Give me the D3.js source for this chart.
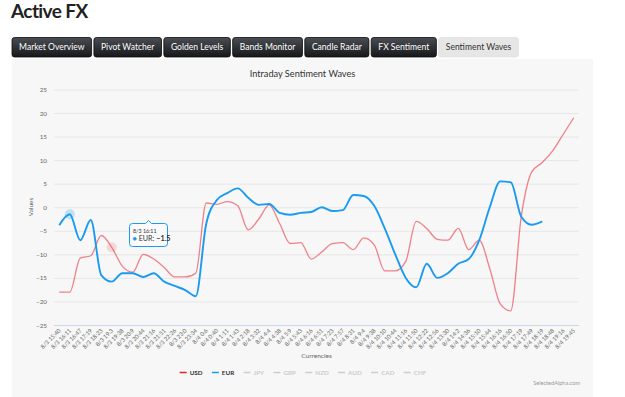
<!DOCTYPE html>
<html><head><meta charset="utf-8">
<script src="https://cdn.jsdelivr.net/npm/d3@7"></script>
<style>body{margin:0;background:#fff;} svg{display:block;}</style>
</head><body>
<script>
const categories = ["8/3 15:40","8/3 16:11","8/3 16:47","8/3 17:19","8/3 18:23","8/3 19:3","8/3 19:38","8/3 20:9","8/3 20:44","8/3 21:16","8/3 21:51","8/3 22:26","8/3 23:0","8/3 23:34","8/4 0:6","8/4 0:40","8/4 1:11","8/4 1:43","8/4 2:18","8/4 3:32","8/4 4:4","8/4 4:38","8/4 5:9","8/4 5:43","8/4 6:16","8/4 6:51","8/4 7:23","8/4 7:57","8/4 8:31","8/4 9:4","8/4 9:38","8/4 10:10","8/4 10:44","8/4 11:16","8/4 11:50","8/4 12:22","8/4 12:56","8/4 13:30","8/4 14:2","8/4 14:36","8/4 15:10","8/4 15:44","8/4 16:16","8/4 16:50","8/4 17:19","8/4 17:49","8/4 18:19","8/4 18:48","8/4 19:16","8/4 19:45"];
const usd = [-18,-18,-10.8,-10.3,-6,-8.5,-12.5,-13.8,-10,-11,-12.8,-14.8,-14.8,-14,0.9,0.6,1.2,0.3,-4.8,-2.5,0.5,-3.5,-7.7,-7.5,-11,-9.5,-7.7,-7.5,-9,-6.5,-8,-13.5,-13.5,-11.5,-3,-4.5,-6.8,-7,-4.5,-9,-7,-13,-20.5,-22,-2,7.5,9.5,12,15.5,19];
const eur = [-3.8,-1.5,-7,-2.7,-14.4,-15.8,-14,-14,-14.8,-14,-15.8,-16.7,-17.6,-18.9,-3.5,1.5,3,4,2,0.5,0.7,-1.2,-1.6,-1.2,-1,0,-0.8,-0.6,2.6,2.4,0.3,-4.5,-10,-15,-17,-12,-15,-14,-12,-11,-7,0,5.5,5.3,-2,-3.7,-3,null,null,null];
const seriesNames = ["USD","EUR","JPY","GBP","NZD","AUD","CAD","CHF"];
const seriesColors = ["#e8202f","#1a9af0","#cccccc","#cccccc","#cccccc","#cccccc","#cccccc","#cccccc"];
const seriesVisible = [true,true,false,false,false,false,false,false];
const yTicks = [-25,-20,-15,-10,-5,0,5,10,15,20,25];
const tabs = ["Market Overview","Pivot Watcher","Golden Levels","Bands Monitor","Candle Radar","FX Sentiment","Sentiment Waves"];
const activeTab = 6;
const tooltipIndex = 1;

const W = 625, H = 397;
const svg = d3.select("body").append("svg").attr("width", W).attr("height", H);
const defs = svg.append("defs");
const g1 = defs.append("linearGradient").attr("id","tabg").attr("x1",0).attr("y1",0).attr("x2",0).attr("y2",1);
g1.append("stop").attr("offset","0%").attr("stop-color","#4a4d52");
g1.append("stop").attr("offset","100%").attr("stop-color","#16181b");

// Page title
svg.append("text").attr("x", 11).attr("y", 18).text("Active FX")
  .attr("font-family","Lato").attr("font-weight","bold").attr("font-size",19)
  .attr("letter-spacing","-0.6").attr("fill","#222");

// Tabs
let tx = 12;
const tabG = svg.append("g");
tabs.forEach((t, i) => {
  const gg = tabG.append("g");
  const r = gg.append("rect").attr("y", 37.5).attr("height", 19.5).attr("rx", 2.5);
  const txt = gg.append("text").text(t).attr("y", 50.3)
    .attr("font-family","Lato").attr("font-size", 8.55)
    .attr("fill", i === activeTab ? "#333" : "#fff");
  const w = txt.node().getComputedTextLength();
  const pad = 7.1;
  r.attr("x", tx).attr("width", w + 2*pad)
   .attr("fill", i === activeTab ? "#e6e6e6" : "url(#tabg)")
   .attr("stroke", i === activeTab ? "#e0e0e0" : "#0b0b0b").attr("stroke-width", 0.8);
  txt.attr("x", tx + pad);
  tx += w + 2*pad + 2.3;
});

// Panel
svg.append("rect").attr("x", 12).attr("y", 59).attr("width", 581).attr("height", 345).attr("fill", "#f7f7f7");

const plotL = 54, plotR = 579, plotT = 89.5, plotB = 325;
const x = d3.scaleBand().domain(categories).range([plotL, plotR]);
const cx = c => x(c) + x.bandwidth()/2;
const y = d3.scaleLinear().domain([-25, 25]).range([plotB, plotT]);

const font = "Lato";
// Chart title
svg.append("text").attr("x", 302.5).attr("y", 77).attr("text-anchor","middle")
  .attr("font-family", font).attr("font-size", 9.2).attr("fill","#333").text("Intraday Sentiment Waves");

// Y grid + labels
const yAxis = svg.append("g").attr("transform", `translate(${plotL},0)`)
  .call(d3.axisLeft(y).tickValues(yTicks).tickSizeInner(-(plotR - plotL)).tickSizeOuter(0).tickPadding(7));
yAxis.select(".domain").remove();
yAxis.selectAll(".tick line").attr("stroke", "#e6e6e6").attr("stroke-width", 1);
yAxis.selectAll(".tick text").attr("font-family", font).attr("font-size", 6.3).attr("fill", "#666");

// X axis line
svg.append("line").attr("x1", plotL).attr("x2", plotR).attr("y1", plotB + 0.5).attr("y2", plotB + 0.5)
  .attr("stroke", "#ccd6eb").attr("stroke-width", 1);

// X labels
const xAxis = svg.append("g").attr("transform", `translate(0,${plotB})`)
  .call(d3.axisBottom(x).tickSize(0).tickPadding(0));
xAxis.select(".domain").remove();
xAxis.selectAll(".tick text").attr("font-family", font).attr("font-size", 5.8).attr("fill", "#666")
  .attr("text-anchor", "end").attr("dy", 0).attr("y", 0)
  .attr("transform", "translate(2,6) rotate(-45)");

// Axis titles
svg.append("text").attr("transform", `translate(33,207) rotate(-90)`).attr("text-anchor","middle")
  .attr("font-family", font).attr("font-size", 6.5).attr("fill","#666").text("Values");
svg.append("text").attr("x", 316.5).attr("y", 358).attr("text-anchor","middle")
  .attr("font-family", font).attr("font-size", 6.5).attr("fill","#666").text("Currencies");

// Lines
const line = d3.line().defined(d => d[1] !== null).x(d => cx(d[0])).y(d => y(d[1])).curve(d3.curveMonotoneX);
const usdData = categories.map((c, i) => [c, usd[i]]);
const eurData = categories.map((c, i) => [c, eur[i]]);

// halos
svg.append("circle").attr("cx", cx(categories[5])).attr("cy", y(usd[5])).attr("r", 5)
  .attr("fill", seriesColors[0]).attr("fill-opacity", 0.15);
svg.append("circle").attr("cx", cx(categories[tooltipIndex])).attr("cy", y(eur[tooltipIndex])).attr("r", 5)
  .attr("fill", seriesColors[1]).attr("fill-opacity", 0.25);

svg.append("path").datum(usdData).attr("d", line).attr("fill","none")
  .attr("stroke", seriesColors[0]).attr("stroke-opacity", 0.55).attr("stroke-width", 1.3);
svg.append("path").datum(eurData).attr("d", line).attr("fill","none")
  .attr("stroke", seriesColors[1]).attr("stroke-width", 1.9);

// Legend (centered)
const lg = svg.append("g");
let lx = 0;
seriesNames.forEach((n, i) => {
  lg.append("line").attr("x1", lx).attr("x2", lx + 7).attr("y1", 372.5).attr("y2", 372.5)
    .attr("stroke", seriesColors[i]).attr("stroke-width", 1.5);
  const t = lg.append("text").attr("x", lx + 10).attr("y", 374.8).text(n)
    .attr("font-family", font).attr("font-size", 6.3).attr("font-weight", "bold")
    .attr("fill", seriesVisible[i] ? "#333" : "#cccccc");
  lx += 10 + t.node().getComputedTextLength() + (i < seriesNames.length - 1 ? 9.3 : 0);
});
lg.attr("transform", `translate(${303 - lx/2},0)`);

// Credit
svg.append("text").attr("x", 580).attr("y", 385).attr("text-anchor","end")
  .attr("font-family", font).attr("font-size", 5.6).attr("fill","#999").text("SelectedAlpha.com");

// Tooltip
const tt = svg.append("g");
const bx = 129.5, by = 223.5, bw = 38, bh = 23, px = 148.5;
tt.append("path").attr("d",
  `M${bx+3},${by} L${px-3},${by} L${px},${by-3} L${px+3},${by} L${bx+bw-3},${by} Q${bx+bw},${by} ${bx+bw},${by+3} L${bx+bw},${by+bh-3} Q${bx+bw},${by+bh} ${bx+bw-3},${by+bh} L${bx+3},${by+bh} Q${bx},${by+bh} ${bx},${by+bh-3} L${bx},${by+3} Q${bx},${by} ${bx+3},${by} Z`)
  .attr("fill", "rgba(250,250,250,0.92)").attr("stroke", seriesColors[1]).attr("stroke-width", 1);
tt.append("text").attr("x", 133).attr("y", 232.5).attr("font-family", font).attr("font-size", 5.3)
  .attr("fill", "#333").text(categories[tooltipIndex]);
const t2 = tt.append("text").attr("x", 132.5).attr("y", 241).attr("font-family", font).attr("font-size", 7.2).attr("fill","#333");
t2.append("tspan").attr("fill", seriesColors[1]).text("\u25CF");
t2.append("tspan").text(" " + seriesNames[1] + ": ");
t2.append("tspan").attr("font-weight","bold").text(String(eur[tooltipIndex]).replace("-", "\u2212"));
</script>
</body></html>
